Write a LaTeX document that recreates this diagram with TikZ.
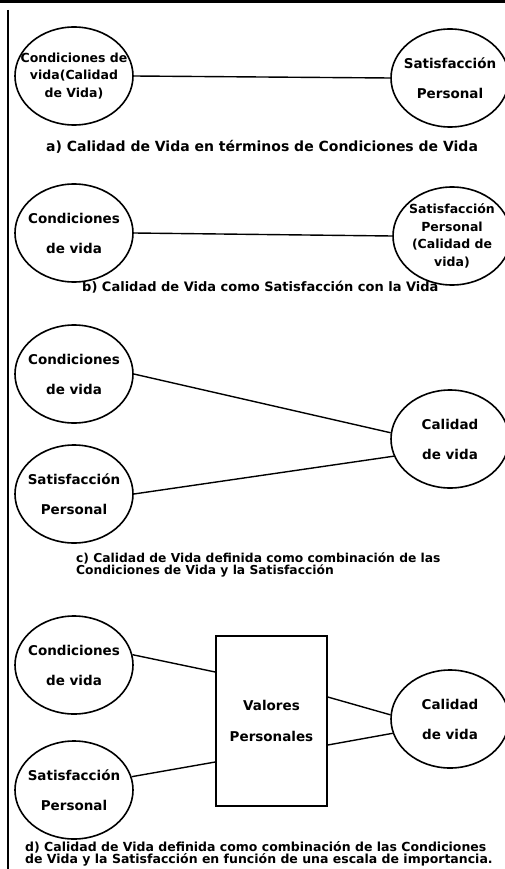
\documentclass[tikz,border=0pt]{standalone}
\usepackage{fontspec}
\setmainfont{DejaVu Sans}
\usetikzlibrary{shapes.geometric}

\begin{document}
\begin{tikzpicture}[x=1pt, y=-1pt,
    circ/.style={draw, line width=1.6pt, ellipse, inner sep=-14pt,
        minimum width=118pt, minimum height=98pt, align=center,
        font=\bfseries\fontsize{13.5}{30}\selectfont},
    tight/.style={font=\bfseries\fontsize{12.5}{17.5}\selectfont},
    valbox/.style={draw, line width=1.6pt, minimum width=111pt,
        minimum height=170pt, align=center,
        font=\bfseries\fontsize{13.5}{31}\selectfont},
    link/.style={line width=1.4pt},
    caption/.style={font=\bfseries\fontsize{14}{14}\selectfont, inner sep=0pt},
    smallcap/.style={font=\bfseries\fontsize{12.5}{10.5}\selectfont, inner sep=0pt, align=left}]
    \useasboundingbox (0,0) rectangle (505,869);
    \clip (0,0) rectangle (505,869);
    \draw[line width=3pt] (0,1.5) -- (505,1.5);
    \draw[line width=1.6pt] (8,10) -- (8,869);

    \node[circ, tight] (ca) at (74,76) {Condiciones de\\vida(Calidad\\de Vida)};
    \node[circ] (sa) at (450,78) {Satisfacción\\Personal};
    \draw[link] (ca.east) -- (sa.west);
    \node[caption] (capa) at (262,147) {a) Calidad de Vida en términos de Condiciones de Vida};

    \node[circ] (cb) at (74,233) {Condiciones\\de vida};
    \node[circ, tight] (sb) at (452,236) {Satisfacción\\Personal\\(Calidad de\\vida)};
    \draw[link] (cb.east) -- (sb.west);
    \node[caption, font=\bfseries\fontsize{13}{13}\selectfont, anchor=west] (capb) at (82,287) {b) Calidad de Vida como Satisfacción con la Vida};

    \node[circ] (cc) at (74,374) {Condiciones\\de vida};
    \node[circ] (sc) at (74,494) {Satisfacción\\Personal};
    \node[circ] (qc) at (450,439) {Calidad\\de vida};
    \draw[link] (cc.east) -- (qc.174);
    \draw[link] (sc.east) -- (qc.197);
    \node[smallcap, font=\bfseries\fontsize{12.3}{11}\selectfont, anchor=north west] (capc) at (76,552) {c) Calidad de Vida definida como combinación de las\\Condiciones de Vida y la Satisfacción};

    \node[circ] (cd) at (74,665) {Condiciones\\de vida};
    \node[circ] (sd) at (74,790) {Satisfacción\\Personal};
    \node[valbox] (vp) at (271.5,721) {Valores\\Personales};
    \node[circ] (qd) at (450,719) {Calidad\\de vida};
    \draw[link] (cd.10) -- ([yshift=49pt]vp.west);
    \draw[link] (sd.13) -- ([yshift=-41pt]vp.west);
    \draw[link] ([yshift=24pt]vp.east) -- (qd.176);
    \draw[link] ([yshift=-24pt]vp.east) -- (qd.194);
    \node[smallcap, anchor=north west] (capd) at (25,841) {d) Calidad de Vida definida como combinación de las Condiciones\\de Vida y la Satisfacción en función de una escala de importancia.};
\end{tikzpicture}
\end{document}
